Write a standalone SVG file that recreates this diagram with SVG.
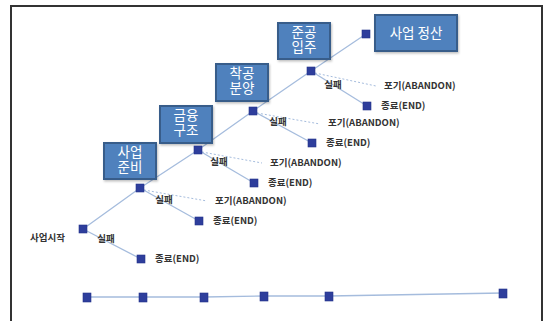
<svg xmlns="http://www.w3.org/2000/svg" width="544" height="321" viewBox="0 0 544 321">
<defs>
<style>
.frame{fill:none;stroke:#333;stroke-width:2}
.box{fill:#4F81BD;stroke:#385D8A;stroke-width:2}
.bt{font-family:"Noto Sans CJK KR","Noto Sans",sans-serif;font-size:13.5px;fill:#fff;text-anchor:middle}
.nd{fill:#2E3E9C;stroke:#24328A;stroke-width:0.6}
.ln{fill:none;stroke:#A5BCDD;stroke-width:1.3}
.ds{fill:none;stroke:#A5BCDD;stroke-width:1;stroke-dasharray:2 2}
.lb{font-family:"Noto Sans CJK KR","Noto Sans",sans-serif;font-size:9.5px;font-weight:bold;fill:#333}
</style>
<filter id="sh" x="-20%" y="-20%" width="140%" height="140%">
<feDropShadow dx="1" dy="1.5" stdDeviation="1.2" flood-color="#000" flood-opacity="0.25"/>
</filter>
</defs>
<rect width="544" height="321" fill="#fff"/>
<rect class="frame" x="11" y="6" width="531" height="320"/>

<g id="connectors">
<polyline class="ln" points="83,229 140,188 198,150 253,111 311,71 366,34"/>
<line class="ln" x1="83" y1="229" x2="141" y2="259"/>
<line class="ln" x1="140" y1="188" x2="199" y2="221"/>
<line class="ln" x1="198" y1="150" x2="254" y2="183"/>
<line class="ln" x1="253" y1="111" x2="312" y2="143"/>
<line class="ln" x1="311" y1="71" x2="367" y2="106"/>
<line class="ds" x1="144" y1="190" x2="207" y2="201"/>
<line class="ds" x1="202" y1="152" x2="262" y2="163"/>
<line class="ds" x1="257" y1="113" x2="320" y2="124"/>
<line class="ds" x1="315" y1="73" x2="376" y2="86"/>
<polyline class="ln" points="87,297 143,297 204,297 264,296 329,296 503,293"/>
</g>

<g id="box-prep"><rect class="box" filter="url(#sh)" x="104" y="143" width="52" height="36"/><text class="bt" x="130" y="157"><tspan x="130">사업</tspan><tspan x="130" dy="15">준비</tspan></text></g>
<g id="box-fin"><rect class="box" filter="url(#sh)" x="160" y="106" width="52" height="37"/><text class="bt" x="186" y="120"><tspan x="186">금융</tspan><tspan x="186" dy="15">구조</tspan></text></g>
<g id="box-con"><rect class="box" filter="url(#sh)" x="216" y="64" width="52" height="37"/><text class="bt" x="242" y="78"><tspan x="242">착공</tspan><tspan x="242" dy="15">분양</tspan></text></g>
<g id="box-comp"><rect class="box" filter="url(#sh)" x="278" y="23" width="52" height="36"/><text class="bt" x="304" y="37"><tspan x="304">준공</tspan><tspan x="304" dy="15">입주</tspan></text></g>
<g id="box-settle"><rect class="box" filter="url(#sh)" x="375" y="15" width="82" height="36"/><text class="bt" x="416" y="38">사업 정산</text></g>

<g id="n1"><rect class="nd" x="79" y="225" width="8" height="8"/><text class="lb" x="65" y="241" text-anchor="end">사업시작</text><text class="lb" x="106" y="242" text-anchor="middle">실패</text></g>
<g id="n1-end"><rect class="nd" x="137" y="255" width="8" height="8"/><text class="lb" x="155" y="262">종료(END)</text></g>
<g id="n2"><rect class="nd" x="136" y="184" width="8" height="8"/><text class="lb" x="164" y="203" text-anchor="middle">실패</text><text class="lb" x="215" y="204">포기(ABANDON)</text></g>
<g id="n2-end"><rect class="nd" x="195" y="217" width="8" height="8"/><text class="lb" x="213" y="224">종료(END)</text></g>
<g id="n3"><rect class="nd" x="194" y="146" width="8" height="8"/><text class="lb" x="219" y="165" text-anchor="middle">실패</text><text class="lb" x="270" y="166">포기(ABANDON)</text></g>
<g id="n3-end"><rect class="nd" x="250" y="179" width="8" height="8"/><text class="lb" x="268" y="186">종료(END)</text></g>
<g id="n4"><rect class="nd" x="249" y="107" width="8" height="8"/><text class="lb" x="278" y="125" text-anchor="middle">실패</text><text class="lb" x="328" y="126">포기(ABANDON)</text></g>
<g id="n4-end"><rect class="nd" x="308" y="139" width="8" height="8"/><text class="lb" x="326" y="146">종료(END)</text></g>
<g id="n5"><rect class="nd" x="307" y="67" width="8" height="8"/><text class="lb" x="333" y="88" text-anchor="middle">실패</text><text class="lb" x="384" y="89">포기(ABANDON)</text></g>
<g id="n5-end"><rect class="nd" x="363" y="102" width="8" height="8"/><text class="lb" x="381" y="109">종료(END)</text></g>
<g id="n6"><rect class="nd" x="362" y="30" width="8" height="8"/></g>

<g id="t1"><rect class="nd" x="83" y="293" width="8" height="9"/></g>
<g id="t2"><rect class="nd" x="139" y="293" width="8" height="9"/></g>
<g id="t3"><rect class="nd" x="200" y="293" width="8" height="9"/></g>
<g id="t4"><rect class="nd" x="260" y="292" width="8" height="9"/></g>
<g id="t5"><rect class="nd" x="325" y="292" width="8" height="9"/></g>
<g id="t6"><rect class="nd" x="499" y="289" width="8" height="9"/></g>
</svg>
